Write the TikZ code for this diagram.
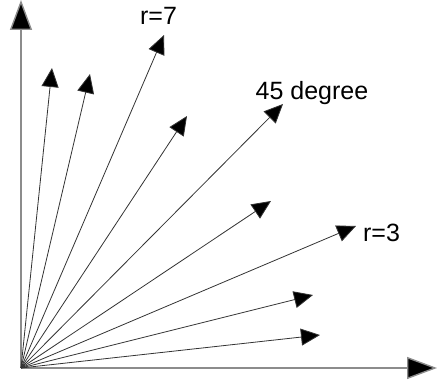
\documentclass[tikz,border=0pt]{standalone}
\usepackage{fontspec}
\setmainfont{Liberation Sans}
\usetikzlibrary{arrows.meta,calc}
\tikzset{
  axis/.style={draw=black!45, line width=1.4pt,
               -{Triangle[length=30pt,width=22pt,fill=black]}},
  vec/.style={draw=black!80, line width=0.8pt,
              -{Triangle[length=19pt,width=17pt,fill=black]}},
  lbl/.style={font=\fontsize{25}{28}\selectfont, inner sep=0pt},
}
\begin{document}
\begin{tikzpicture}[x=1pt, y=1pt]
  \useasboundingbox (0,0) rectangle (437,387);
  % Origin and axes
  \coordinate (O) at (21,19);
  \coordinate (ytip) at (21,387);
  \coordinate (xtip) at (437,19);
  \draw[axis] (O) -- (ytip);
  \draw[axis] (O) -- (xtip);
  % Vectors
  \foreach \n/\dx/\dy in {a/31/300, b/69/294, c/143/333, d/166/252,
                          e/262/264, f/250/167, g/335/142, h/292/73, i/299/33} {
    \coordinate (v\n) at ($(O)+(\dx,\dy)$);
    \draw[vec] (O) -- (v\n);
  }
  % Labels
  \node[lbl] (r7) at (158.5,371.5) {r=7};
  \node[lbl] (deg) at (312,294) {45 degree};
  \node[lbl] (r3) at (381.5,154) {r=3};
\end{tikzpicture}
\end{document}
